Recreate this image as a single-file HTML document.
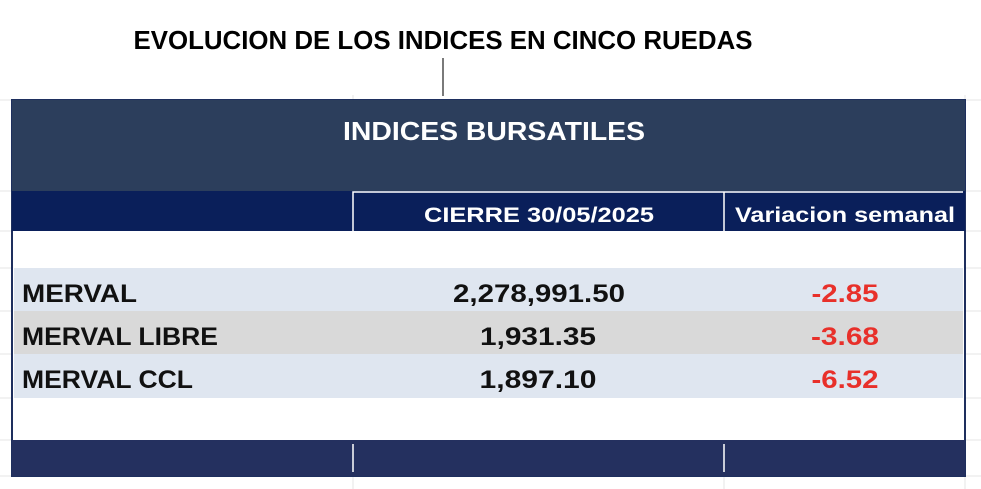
<!DOCTYPE html>
<html><head><meta charset="utf-8"><style>
html,body{margin:0;padding:0;background:#fff;width:981px;height:489px;overflow:hidden}
svg text{font-family:"Liberation Sans",sans-serif;font-weight:bold}
</style></head><body>
<svg width="981" height="489" viewBox="0 0 981 489">
<g stroke="#e4e4e4" stroke-width="1">
<line x1="0" y1="100" x2="981" y2="100"/><line x1="0" y1="191" x2="981" y2="191"/><line x1="0" y1="231" x2="981" y2="231"/>
<line x1="0" y1="268" x2="981" y2="268"/><line x1="0" y1="311" x2="981" y2="311"/><line x1="0" y1="354" x2="981" y2="354"/>
<line x1="0" y1="398" x2="981" y2="398"/><line x1="0" y1="440" x2="981" y2="440"/><line x1="0" y1="476" x2="981" y2="476"/>
<line x1="353" y1="95" x2="353" y2="489"/><line x1="724" y1="180" x2="724" y2="489"/><line x1="965" y1="95" x2="965" y2="489"/>
</g>
<text x="443" y="49" text-anchor="middle" font-size="26" textLength="619" lengthAdjust="spacingAndGlyphs" fill="#000">EVOLUCION DE LOS INDICES EN CINCO RUEDAS</text>
<line x1="443" y1="58" x2="443" y2="96" stroke="#222" stroke-width="1.2"/>
<rect x="12" y="100" width="953" height="376" fill="#fff" stroke="#1e2f5e" stroke-width="2"/>
<rect x="12" y="100" width="953" height="91" fill="#2c3e5c"/>
<text x="494" y="140" text-anchor="middle" font-size="26" textLength="302" lengthAdjust="spacingAndGlyphs" fill="#fff">INDICES BURSATILES</text>
<rect x="12" y="191" width="953" height="40" fill="#0a1f5a"/>
<path d="M353 231 V192 H963 M724 192 V231" stroke="#fff" stroke-width="1.5" fill="none"/>
<text x="539" y="222" text-anchor="middle" font-size="21" textLength="230" lengthAdjust="spacingAndGlyphs" fill="#fff">CIERRE 30/05/2025</text>
<text x="845" y="222" text-anchor="middle" font-size="21" textLength="220" lengthAdjust="spacingAndGlyphs" fill="#fff">Variacion semanal</text>
<rect x="14" y="268" width="949" height="43" fill="#dfe6f0"/>
<rect x="14" y="311" width="949" height="43" fill="#d9d9d9"/>
<rect x="14" y="354" width="949" height="44" fill="#dfe6f0"/>
<g font-size="25" fill="#111">
<text x="22" y="302" textLength="115" lengthAdjust="spacingAndGlyphs">MERVAL</text>
<text x="22" y="345" textLength="196" lengthAdjust="spacingAndGlyphs">MERVAL LIBRE</text>
<text x="22" y="388" textLength="171" lengthAdjust="spacingAndGlyphs">MERVAL CCL</text>
<text x="539" y="302" text-anchor="middle" textLength="172" lengthAdjust="spacingAndGlyphs">2,278,991.50</text>
<text x="538" y="345" text-anchor="middle" textLength="116" lengthAdjust="spacingAndGlyphs">1,931.35</text>
<text x="538" y="388" text-anchor="middle" textLength="117" lengthAdjust="spacingAndGlyphs">1,897.10</text>
</g>
<g font-size="25" fill="#e8302a">
<text x="845" y="302" text-anchor="middle" textLength="67" lengthAdjust="spacingAndGlyphs">-2.85</text>
<text x="845" y="345" text-anchor="middle" textLength="68" lengthAdjust="spacingAndGlyphs">-3.68</text>
<text x="845" y="388" text-anchor="middle" textLength="67" lengthAdjust="spacingAndGlyphs">-6.52</text>
</g>
<rect x="12" y="440" width="953" height="36" fill="#24305f"/>
<path d="M353 444 V472 M724 444 V472" stroke="#fff" stroke-width="1.5"/>
</svg>
</body></html>
